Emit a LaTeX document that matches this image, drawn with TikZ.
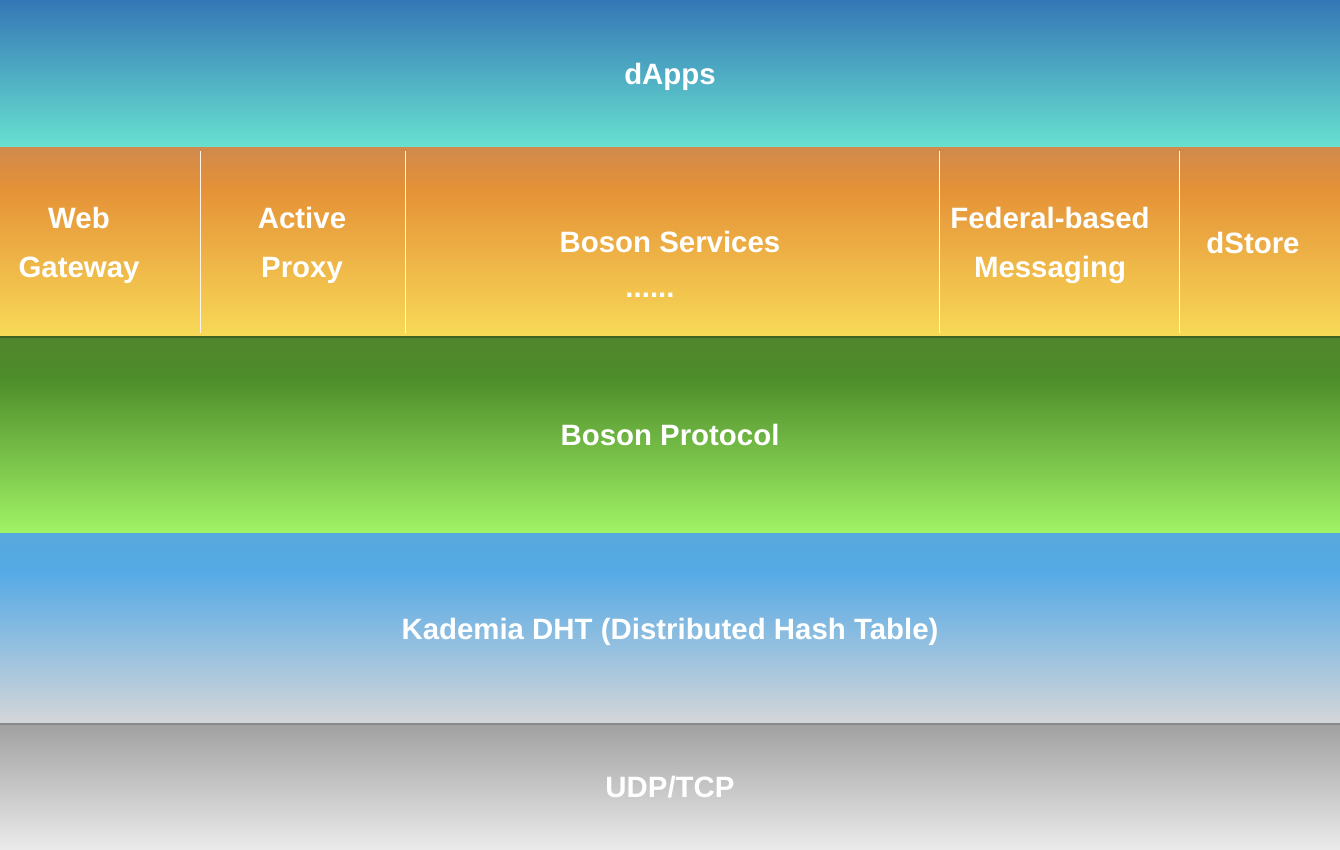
\documentclass[tikz,border=0pt]{standalone}
\usepackage{fontspec}
\setmainfont{Liberation Sans}
\definecolor{dappsTop}{HTML}{3577B6}
\definecolor{dappsBot}{HTML}{68E1D0}
\definecolor{svcTop}{HTML}{D18A4B}
\definecolor{svcMid}{HTML}{E59237}
\definecolor{svcBot}{HTML}{F8DA58}
\definecolor{protoTop}{HTML}{52852D}
\definecolor{protoMid}{HTML}{4D8C2A}
\definecolor{protoBot}{HTML}{A1F366}
\definecolor{kadTop}{HTML}{57A9DC}
\definecolor{kadMid}{HTML}{55AAE6}
\definecolor{kadBot}{HTML}{D5D6D8}
\definecolor{udpTop}{HTML}{A1A1A1}
\definecolor{udpBot}{HTML}{EBEBEB}
% vertical shadings: 25bp = bottom of the band, 75bp = top
\pgfdeclareverticalshading{svcshade}{100bp}{color(0bp)=(svcBot); color(25bp)=(svcBot); color(64bp)=(svcMid); color(75bp)=(svcTop); color(100bp)=(svcTop)}
\pgfdeclareverticalshading{protoshade}{100bp}{color(0bp)=(protoBot); color(25bp)=(protoBot); color(65bp)=(protoMid); color(75bp)=(protoTop); color(100bp)=(protoTop)}
\pgfdeclareverticalshading{kadshade}{100bp}{color(0bp)=(kadBot); color(25bp)=(kadBot); color(65bp)=(kadMid); color(75bp)=(kadTop); color(100bp)=(kadTop)}
\tikzset{
  band/.style={minimum width=670pt, inner sep=0pt, outer sep=0pt, text=white,
    text height=10.5pt, text depth=0pt,
    font=\bfseries\fontsize{14.7}{25}\selectfont},
  cell/.style={inner sep=0pt, text=white, align=center,
    font=\bfseries\fontsize{14.7}{24.5}\selectfont},
  sep/.style={white!92!orange, line width=0.5pt}
}
\begin{document}
\begin{tikzpicture}[x=0.5pt,y=-0.5pt]
        \useasboundingbox (0,0) rectangle (1340,850);
        % Layers
        \node[band, minimum height=74pt, top color=dappsTop, bottom color=dappsBot] (dapps) at (670,74) {dApps};
        \node[band, minimum height=94.5pt, shading=svcshade] (services) at (670,242.5) {};
        \node[band, minimum height=98pt, shading=protoshade] (protocol) at (670,435) {Boson Protocol};
        \node[band, minimum height=95.5pt, shading=kadshade] (dht) at (670,628.5) {Kademia DHT (Distributed Hash Table)};
        \node[band, minimum height=63pt, top color=udpTop, bottom color=udpBot] (udp) at (670,787) {UDP/TCP};
        % Band edges
        \draw[protoTop!75!black, line width=0.6pt] (protocol.north west) -- (protocol.north east);
        \draw[udpTop!85!black, line width=0.6pt] (udp.north west) -- (udp.north east);
        % Services
        \node[cell] (webgw) at (79,245.5) {Web\\Gateway};
        \node[cell] (proxy) at (302,245.5) {Active\\Proxy};
        \node[cell] (boson) at (670,242) {Boson Services};
        \node[cell, anchor=base] (more) at (650,298) {......};
        \node[cell] (messaging) at (1050,245) {Federal-based\\Messaging};
        \node[cell] (dstore) at (1253,243) {dStore};
        \foreach \x in {200,405,939,1179}
          \draw[sep] (\x,151) -- (\x,333);

    \end{tikzpicture}
\end{document}
